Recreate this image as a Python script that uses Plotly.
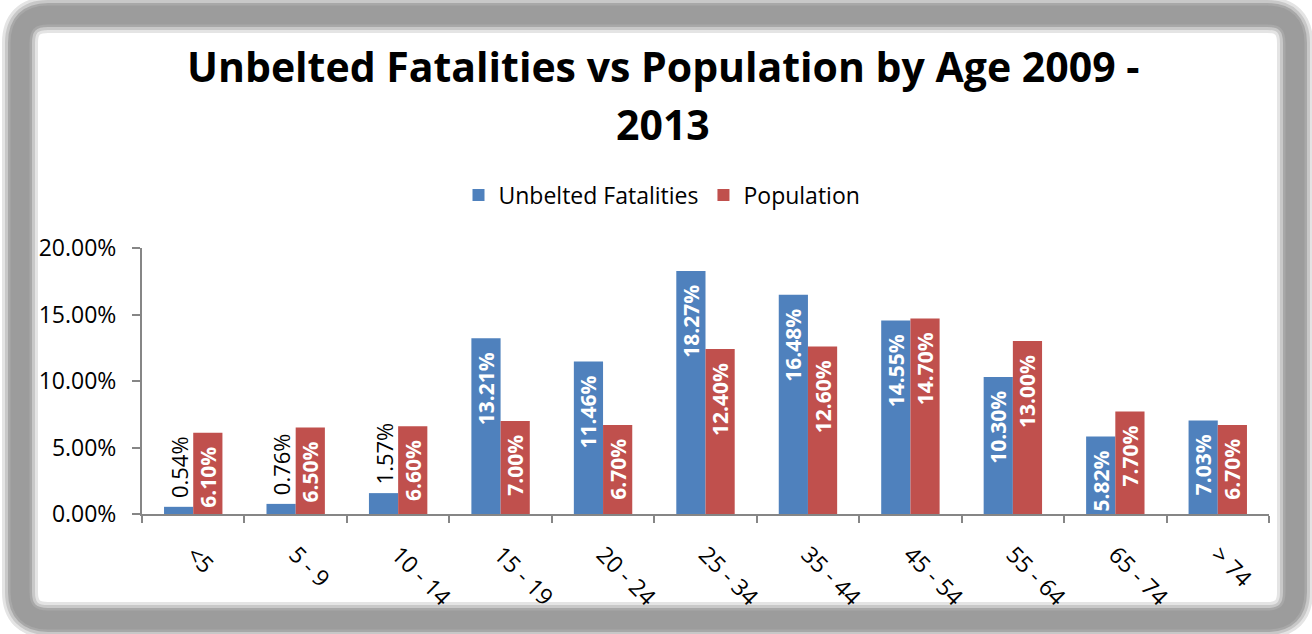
import plotly.graph_objects as go

categories = ["<5", "5 - 9", "10 - 14", "15 - 19", "20 - 24", "25 - 34",
              "35 - 44", "45 - 54", "55 - 64", "65 - 74", "> 74"]
unbelted = [0.54, 0.76, 1.57, 13.21, 11.46, 18.27, 16.48, 14.55, 10.30, 5.82, 7.03]
population = [6.10, 6.50, 6.60, 7.00, 6.70, 12.40, 12.60, 14.70, 13.00, 7.70, 6.70]
y_ticks = [0, 5, 10, 15, 20]
title_lines = ["Unbelted Fatalities vs Population by Age 2009 -", "2013"]

BLUE = "#4F81BD"
RED = "#C0504D"
FONT = "Open Sans"

W, H = 1312, 634
L, R, T, B = 142, 1269, 248, 514  # plot area in pixels


def px(x, y):
    return (x - L) / (R - L), (B - y) / (B - T)


def rounded(x0, y0, x1, y1, r):
    pts = [("M", [(x0 + r, y0)]), ("L", [(x1 - r, y0)]), ("Q", [(x1, y0), (x1, y0 + r)]),
           ("L", [(x1, y1 - r)]), ("Q", [(x1, y1), (x1 - r, y1)]), ("L", [(x0 + r, y1)]),
           ("Q", [(x0, y1), (x0, y1 - r)]), ("L", [(x0, y0 + r)]), ("Q", [(x0, y0), (x0 + r, y0)])]
    out = []
    for cmd, ps in pts:
        coords = " ".join("%.5f,%.5f" % px(a, b) for a, b in ps)
        out.append(cmd + " " + coords)
    return " ".join(out) + " Z"


def lab(v, inside):
    s = "%.2f%%" % v
    return "<b>" + s + "</b>\u00a0\u00a0" if inside else "\u00a0" + s


def positions(vals):
    return ["inside" if v > 3 else "outside" for v in vals]


fig = go.Figure()
for name, vals, col in [("Unbelted Fatalities", unbelted, BLUE), ("Population", population, RED)]:
    pos = positions(vals)
    fig.add_trace(go.Bar(
        name=name, x=categories, y=[v / 100 for v in vals],
        marker=dict(color=col, line=dict(width=0)),
        text=[lab(v, p == "inside") for v, p in zip(vals, pos)],
        textposition=pos, textangle=-90, insidetextanchor="end",
        constraintext="none", cliponaxis=False,
        insidetextfont=dict(family=FONT, size=21, color="white"),
        outsidetextfont=dict(family=FONT, size=22, color="black"),
        hoverinfo="skip",
    ))

frame = rounded(20, 15, 1295, 620, 28)
shapes = []
for w, c in [(36, "#e4e4e4"), (30, "#c8c8c8"), (24, "#a8a8a8"), (19, "#9c9c9c")]:
    shapes.append(dict(type="path", xref="paper", yref="paper", path=frame,
                       line=dict(color=c, width=w), fillcolor="rgba(0,0,0,0)", layer="below"))

annotations = []
for i, (line, yc) in enumerate(zip(title_lines, [66, 124])):
    annotations.append(dict(text="<b>" + line + "</b>", xref="paper", yref="paper",
                            x=px(663, yc)[0], y=px(663, yc)[1], xanchor="center", yanchor="middle",
                            showarrow=False, font=dict(family=FONT, size=41, color="black")))

fig.update_layout(
    width=W, height=H,
    margin=dict(l=L, r=W - R, t=T, b=H - B, pad=0),
    paper_bgcolor="white", plot_bgcolor="white",
    barmode="group", bargap=0.43, bargroupgap=0,
    font=dict(family=FONT, color="black"),
    annotations=annotations,
    legend=dict(orientation="h", x=px(662, 195)[0], y=px(662, 195)[1],
                xanchor="center", yanchor="middle",
                font=dict(family=FONT, size=23, color="black"),
                itemsizing="constant", traceorder="normal", itemwidth=30),
    shapes=shapes,
    xaxis=dict(type="category", showline=True, linecolor="#868686", linewidth=2,
               ticks="outside", ticklen=7, tickcolor="#868686", tickwidth=2,
               tickson="boundaries", tickangle=45, showgrid=False,
               tickfont=dict(family=FONT, size=23, color="black"),
               ticklabelstandoff=16),
    yaxis=dict(range=[0, 0.20], tickvals=[t / 100 for t in y_ticks], tickformat=".2%",
               showline=True, linecolor="#868686", linewidth=2,
               ticks="outside", ticklen=8, tickcolor="#868686", tickwidth=2,
               showgrid=False, zeroline=False,
               tickfont=dict(family=FONT, size=23, color="black"),
               ticklabelstandoff=11),
)

fig.write_html("out.html")
